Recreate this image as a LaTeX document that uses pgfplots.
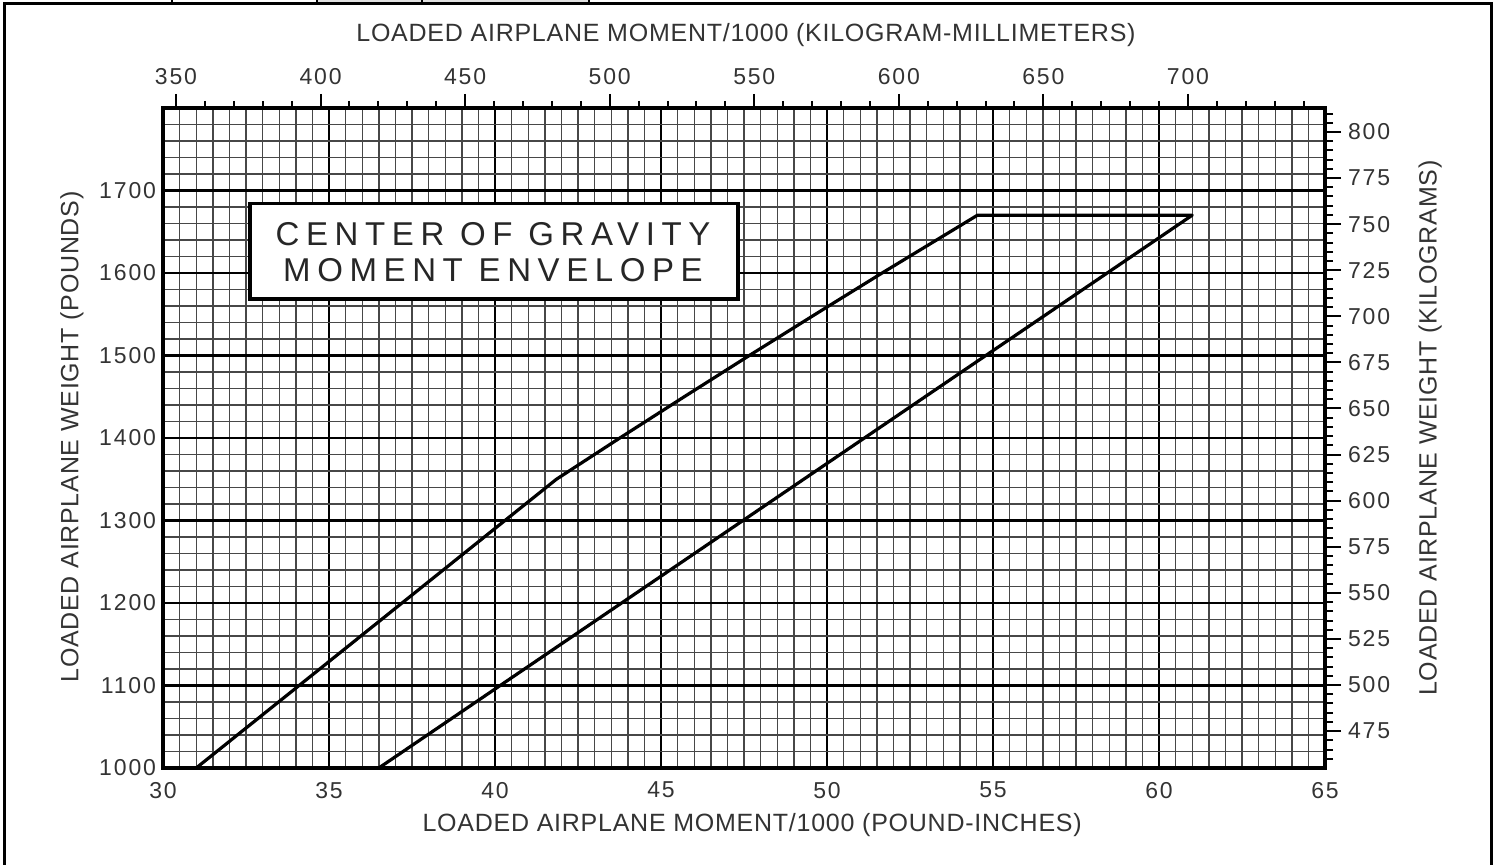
\documentclass[border=0pt]{standalone}
\usepackage{pgfplots}
\pgfplotsset{compat=1.18}
\usepackage{fontspec}
\setmainfont{Liberation Sans}
\definecolor{txt}{gray}{0.2}
\newcommand{\tickfont}{\fontsize{11.5}{13}\selectfont\addfontfeatures{LetterSpace=8}}
\newcommand{\labfont}{\fontsize{12.5}{14}\selectfont\addfontfeatures{LetterSpace=3}}
\begin{document}
\begin{tikzpicture}
\path[use as bounding box] (0pt,0pt) rectangle (748.5pt,432.5pt);
% scan frame
\begin{scope}[x=0.5pt,y=0.5pt]
\fill[black!12] (317,861) rectangle (589,865);
\draw[line width=1.5pt] (4,0) -- (4,861) -- (1491,861) -- (1491,0);
\foreach \xx in {172,317,422,589} {\draw[line width=1pt] (\xx,861) -- (\xx,865);}
\end{scope}
% main axis (pounds / pound-inches)
\begin{axis}[
  at={(81.5pt,48.5pt)}, anchor=south west,
  width=581pt, height=330pt, scale only axis,
  xmin=30, xmax=65, ymin=1000, ymax=1800,
  xtick={30,35,...,65}, ytick={1000,1100,...,1700},
  minor xtick={30,30.5,...,65}, minor ytick={1000,1020,...,1800},
  grid=both,
  minor grid style={black!72, line width=0.7pt},
  major grid style={black, line width=1.3pt},
  major tick length=0pt, minor tick length=0pt,
  axis line style={line width=1.7pt},
  /pgf/number format/assume math mode=true,
  /pgf/number format/1000 sep={},
  tick label style={font=\tickfont, text=txt},
  xticklabel style={yshift=-3.5pt},
  xlabel={LOADED AIRPLANE MOMENT/1000 (POUND-INCHES)},
  ylabel={LOADED AIRPLANE WEIGHT (POUNDS)},
  label style={font=\labfont, text=txt},
  xlabel style={at={(axis description cs:0.507,-0.0864)}, anchor=center},
  ylabel style={at={(axis description cs:-0.0783,0.5015)}, anchor=center},
]
\addplot[black, line width=1.6pt, line join=round] coordinates {
  (31.0,1000) (41.85,1350) (43.76,1400) (45.70,1450) (47.66,1500)
  (49.65,1550) (51.66,1600) (54.53,1670) (61.0,1670) (36.5,1000)};
\draw[line width=1.6pt, fill=white] (axis cs:32.62,1568.4) rectangle (axis cs:47.32,1683.8);
\node[align=center, text=black!85, font=\fontsize{16.5}{18}\selectfont\addfontfeatures{LetterSpace=20}]
  at (axis cs:39.94,1625.5) {CENTER OF GRAVITY\\MOMENT ENVELOPE};
\end{axis}
% top axis (kilogram-millimeters)
\begin{axis}[
  at={(81.5pt,48.5pt)}, anchor=south west,
  width=581pt, height=330pt, scale only axis,
  xmin=345.5, xmax=747.4, ymin=0, ymax=1,
  axis x line*=top, axis y line=none,
  axis line style={line width=1.7pt, -},
  xtick={350,400,...,700}, minor xtick={350,360,...,740},
  tick align=outside, major tick length=7pt, minor tick length=3.5pt,
  every tick/.style={black, line width=1pt},
  /pgf/number format/assume math mode=true,
  /pgf/number format/1000 sep={},
  tick label style={font=\tickfont, text=txt},
  xticklabel style={yshift=1pt},
  xlabel={LOADED AIRPLANE MOMENT/1000 (KILOGRAM-MILLIMETERS)},
  label style={font=\labfont, text=txt},
  xlabel style={at={(axis description cs:0.5017,1.1106)}, anchor=center},
]
\end{axis}
% right axis (kilograms)
\begin{axis}[
  at={(81.5pt,48.5pt)}, anchor=south west,
  width=581pt, height=330pt, scale only axis,
  xmin=0, xmax=1, ymin=455, ymax=813,
  axis y line*=right, axis x line=none,
  axis line style={line width=1.7pt, -},
  ytick={475,500,...,800}, minor ytick={460,465,...,810},
  tick align=outside, major tick length=8pt, minor tick length=4pt,
  every tick/.style={black, line width=1pt},
  /pgf/number format/assume math mode=true,
  /pgf/number format/1000 sep={},
  tick label style={font=\tickfont, text=txt},
  ylabel={LOADED AIRPLANE WEIGHT (KILOGRAMS)},
  label style={font=\labfont, text=txt},
  ylabel style={at={(axis description cs:1.0904,0.515)}, anchor=center},
]
\end{axis}
\end{tikzpicture}
\end{document}
